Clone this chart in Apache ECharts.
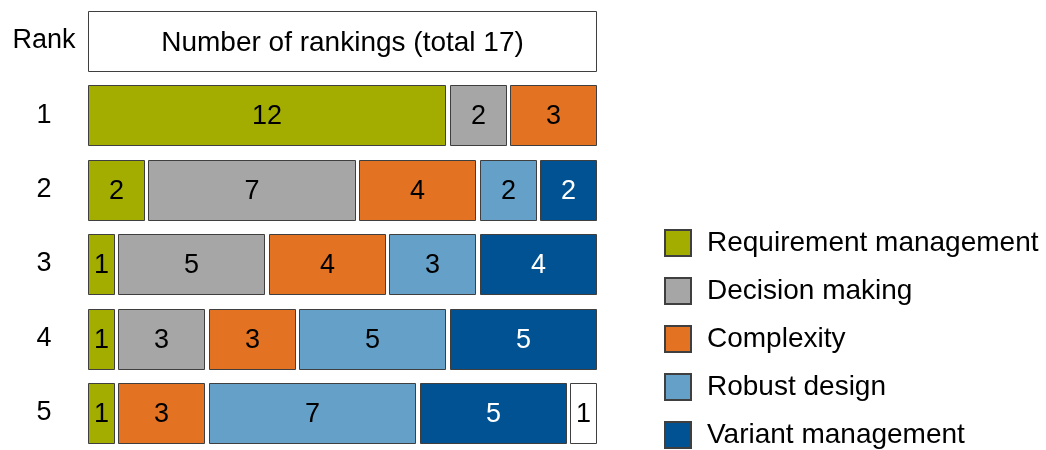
<!DOCTYPE html>
<html>
<head>
<meta charset="utf-8">
<script src="https://cdn.jsdelivr.net/npm/echarts@6/dist/echarts.min.js"></script>
<style>
html,body{margin:0;padding:0;background:#fff;}
#chart{width:1046px;height:450px;}
</style>
</head>
<body>
<div id="chart"></div>
<script>
// ---- data ----
const rowLabels = ['Rank', '1', '2', '3', '4', '5'];
const ranks = ['1', '2', '3', '4', '5'];
const headerText = 'Number of rankings (total 17)';
const total = 17;
const categories = ['Requirement management', 'Decision making', 'Complexity', 'Robust design', 'Variant management', 'Not ranked'];
const requirementManagement = [12, 2, 1, 1, 1];
const decisionMaking = [2, 7, 5, 3, 0];
const complexity = [3, 4, 4, 3, 3];
const robustDesign = [0, 2, 3, 5, 7];
const variantManagement = [0, 2, 4, 5, 5];
const notRanked = [0, 0, 0, 0, 1];

const seriesValues = [requirementManagement, decisionMaking, complexity, robustDesign, variantManagement, notRanked];
const colors = ['#A2AD00', '#A6A6A6', '#E37222', '#64A0C8', '#005293', '#FFFFFF'];
const textColors = ['#000', '#000', '#000', '#000', '#fff', '#000'];
const FONT = 'Liberation Sans, Arial, sans-serif';
const GAP = 4.5;

function makeRender(fill, txtColor, labels, fontSize) {
  return function (params, api) {
    const s = api.value(0), e = api.value(1), row = api.value(2);
    const label = labels[params.dataIndex];
    const p0 = api.coord([s, row]);
    const p1 = api.coord([e, row]);
    const h = api.size([0, 1])[1] * 0.8;
    const x0 = Math.round(p0[0]);
    const x1 = Math.round(p1[0] - GAP);
    const y0 = Math.round(p0[1] - h / 2);
    return {
      type: 'rect',
      shape: { x: x0 + 0.5, y: y0 + 0.5, width: x1 - x0, height: Math.round(h) },
      style: { fill: fill, stroke: '#3f3f3f', lineWidth: 1 },
      textContent: {
        style: { text: String(label), fill: txtColor, font: fontSize + 'px ' + FONT }
      },
      textConfig: { position: 'inside', offset: [0, 1.5] }
    };
  };
}

const series = [];
// header row
series.push({
  type: 'custom',
  name: 'header',
  renderItem: makeRender('#FFFFFF', '#000', [headerText], 28),
  encode: { x: [0, 1], y: 2 },
  data: [[0, total, 0]],
  silent: true
});

const cum = ranks.map(() => 0);
categories.forEach((cat, ci) => {
  const data = [];
  const labels = [];
  seriesValues[ci].forEach((v, ri) => {
    if (v > 0) {
      data.push([cum[ri], cum[ri] + v, ri + 1]);
      labels.push(v);
      cum[ri] += v;
    }
  });
  series.push({
    type: 'custom',
    name: cat,
    renderItem: makeRender(colors[ci], textColors[ci], labels, 27),
    encode: { x: [0, 1], y: 2 },
    itemStyle: { color: colors[ci], borderColor: '#3f3f3f', borderWidth: 1 },
    data: data
  });
});

const chart = echarts.init(document.getElementById('chart'), null, { renderer: 'canvas' });
chart.setOption({
  animation: false,
  backgroundColor: '#fff',
  grid: { left: 88, width: 512.5, top: 3.5, height: 450 },
  xAxis: {
    type: 'value', min: 0, max: total, show: false
  },
  yAxis: {
    type: 'category', data: rowLabels, inverse: true,
    axisLine: { show: false }, axisTick: { show: false }, splitLine: { show: false },
    axisLabel: { color: '#000', fontSize: 27, fontFamily: FONT, align: 'center', margin: 44, padding: [3, 0, 0, 0] }
  },
  legend: {
    data: categories.slice(0, 5),
    orient: 'vertical',
    left: 664, top: 229, height: 260,
    padding: 0,
    itemWidth: 26, itemHeight: 26, itemGap: 20,
    icon: 'rect',
    selectedMode: false,
    textStyle: { color: '#000', fontSize: 28, fontFamily: FONT, lineHeight: 26, padding: [2, 0, 0, 11] }
  },
  series: series
});
</script>
</body>
</html>
